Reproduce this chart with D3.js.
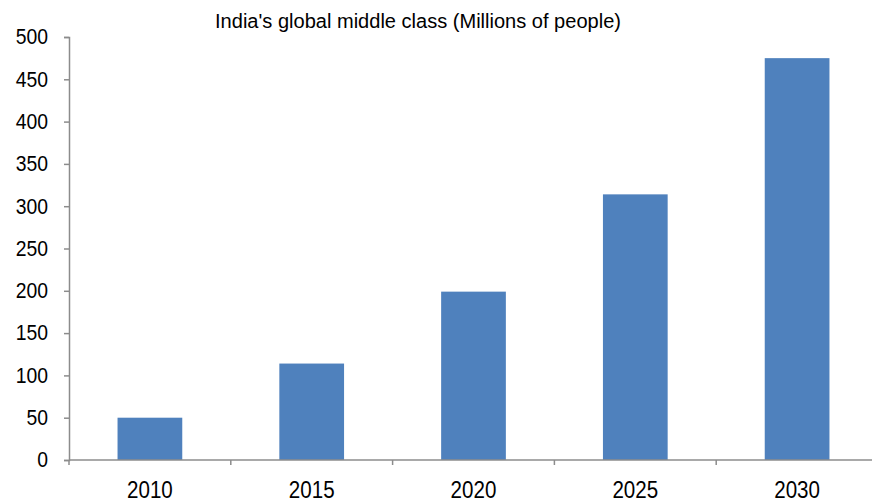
<!DOCTYPE html>
<html>
<head>
<meta charset="utf-8">
<script src="https://cdn.jsdelivr.net/npm/d3@7"></script>
<style>
  html, body { margin: 0; padding: 0; background: #fff; }
  svg { display: block; }
  text { font-family: "Liberation Sans", Arial, sans-serif; fill: #000; }
</style>
</head>
<body>
<svg id="chart" width="872" height="502"></svg>
<script>
// India's global middle class, millions of people
const years = ["2010", "2015", "2020", "2025", "2030"];
const middleClass = [50, 114, 199, 314, 475];
const yTicks = [0, 50, 100, 150, 200, 250, 300, 350, 400, 450, 500];
const title = "India's global middle class (Millions of people)";

const fontStack = "'Liberation Sans', Arial, sans-serif";
const svg = d3.select("#chart");
const plotLeft = 69, plotRight = 878, plotTop = 37, plotBottom = 460;

const x = d3.scaleBand()
  .domain(years)
  .range([plotLeft, plotRight])
  .paddingInner(0.6)
  .paddingOuter(0.3);

const y = d3.scaleLinear().domain([0, 500]).range([plotBottom, plotTop]);

const axisColor = "#8c8c8c";

// bars
svg.append("g")
  .selectAll("rect")
  .data(years.map((yr, i) => ({ yr, v: middleClass[i] })))
  .join("rect")
  .attr("x", d => x(d.yr))
  .attr("y", d => y(d.v))
  .attr("width", x.bandwidth())
  .attr("height", d => y(0) - y(d.v))
  .attr("fill", "#4f81bd");

// y axis (labels set in a narrow, condensed style)
const yAxis = svg.append("g")
  .attr("transform", `translate(${plotLeft},0)`)
  .call(d3.axisLeft(y).tickValues(yTicks).tickSize(5).tickPadding(17));
yAxis.select(".domain").attr("stroke", axisColor).attr("stroke-width", 1.5);
yAxis.selectAll(".tick line").attr("stroke", axisColor).attr("stroke-width", 1.5);
yAxis.selectAll(".tick text")
  .attr("x", null)
  .attr("transform", "translate(-21,0) scale(0.9,1)")
  .attr("font-size", 21.5)
  .attr("font-family", fontStack)
  .attr("fill", "#000");

// x axis: baseline with ticks at category boundaries
const xg = svg.append("g");
xg.append("line")
  .attr("x1", plotLeft).attr("x2", 872)
  .attr("y1", y(0)).attr("y2", y(0))
  .attr("stroke", axisColor).attr("stroke-width", 1.5);
const step = x.step();
const boundaries = d3.range(years.length + 1).map(i => plotLeft + i * step);
xg.selectAll("line.tk")
  .data(boundaries)
  .join("line")
  .attr("class", "tk")
  .attr("x1", d => d).attr("x2", d => d)
  .attr("y1", y(0)).attr("y2", y(0) + 5)
  .attr("stroke", axisColor).attr("stroke-width", 1.5);
xg.selectAll("text")
  .data(years)
  .join("text")
  .attr("transform", d => `translate(${x(d) + x.bandwidth() / 2},498) scale(0.84,1)`)
  .attr("text-anchor", "middle")
  .attr("font-size", 24.5)
  .text(d => d);

// title
svg.append("text")
  .attr("transform", "translate(418,28) scale(0.955,1)")
  .attr("text-anchor", "middle")
  .attr("font-size", 21)
  .text(title);
</script>
</body>
</html>
